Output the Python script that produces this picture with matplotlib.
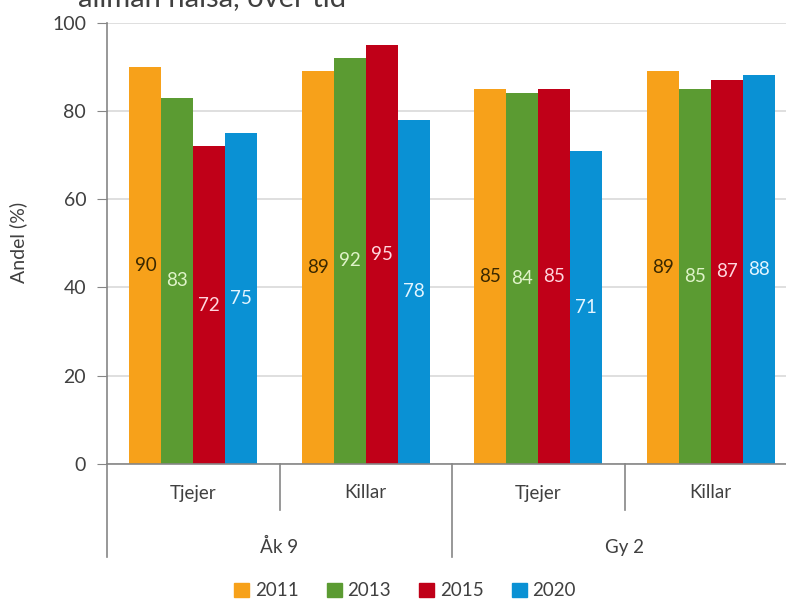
import matplotlib
matplotlib.use("Agg")
import matplotlib.pyplot as plt
import matplotlib.transforms as mtransforms
import numpy as np

plt.rcParams['font.family'] = ['Lato', 'DejaVu Sans']

years = ["2011", "2013", "2015", "2020"]
subcats = ["Tjejer", "Killar", "Tjejer", "Killar"]
groups = ["Åk 9", "Gy 2"]
values = {
    "2011": [90, 89, 85, 89],
    "2013": [83, 92, 84, 85],
    "2015": [72, 95, 85, 87],
    "2020": [75, 78, 71, 88],
}
colors = ["#F7A11A", "#5B9B32", "#C00018", "#0A91D4"]
label_colors = ["#3a2800", "#dff3c8", "#ffd6de", "#e3f5ff"]

W, H = 786, 603
fig = plt.figure(figsize=(W / 100, H / 100), dpi=100)
ax = fig.add_axes([107 / W, 1 - 464 / H, (797 - 107) / W, (464 - 22.5) / H])

x = np.arange(len(subcats))
bw = 0.185
for i, yr in enumerate(years):
    xs = x + (i - 1.5) * bw
    ax.bar(xs, values[yr], width=bw, color=colors[i], zorder=2)
    for xi, v in zip(xs, values[yr]):
        ax.text(xi, v / 2, str(v), ha='center', va='center', fontsize=13.5,
                color=label_colors[i], zorder=3)

ax.set_xlim(-0.5, 3.5)
ax.set_ylim(0, 100)
ax.set_yticks([0, 20, 40, 60, 80, 100])
ax.set_xticks([])
ax.yaxis.grid(True, color="#d9d9d9", linewidth=1.2, zorder=0)
ax.set_axisbelow(True)
for s in ["top", "right"]:
    ax.spines[s].set_visible(False)
for s in ["left", "bottom"]:
    ax.spines[s].set_color("#868686")
    ax.spines[s].set_linewidth(1.2)
ax.tick_params(axis='y', length=7, color="#868686", labelsize=14,
               labelcolor="#404040", pad=8)
ax.set_ylabel("Andel (%)", fontsize=14, color="#404040")
ax.yaxis.set_label_coords(-(107 - 27) / (797 - 107), (464 - 242) / (464 - 22.5))

# two-level category axis
trans = mtransforms.blended_transform_factory(ax.transData, ax.transAxes)
ah = 464 - 22.5
y_sub = -(510 - 464) / ah
y_major = -(557 - 464) / ah
for xb in [0.5, 2.5]:
    ax.plot([xb, xb], [0, y_sub], transform=trans, color="#868686",
            linewidth=1.2, clip_on=False)
for xb in [-0.5, 1.5, 3.5]:
    ax.plot([xb, xb], [0, y_major], transform=trans, color="#868686",
            linewidth=1.2, clip_on=False)
for xi, lab in zip(x, subcats):
    ax.text(xi, -(493 - 464) / ah, lab, transform=trans, ha='center',
            va='center', fontsize=13.5, color="#404040")
for gi, lab in enumerate(groups):
    ax.text(gi * 2 + 0.5, -(547 - 464) / ah, lab, transform=trans,
            ha='center', va='center', fontsize=13.5, color="#404040")

# legend
handles = [plt.Rectangle((0, 0), 1, 1, color=c) for c in colors]
fig.legend(handles, years, loc='center', bbox_to_anchor=(405 / W, 1 - 591 / H),
           ncol=4, frameon=False, fontsize=13.5, handlelength=0.8,
           handleheight=0.8, handletextpad=0.3, columnspacing=1.5,
           labelcolor="#404040")

# title, cut off at the top edge as in the source image
fig.text(78 / W, 1 - 6 / H, "allmän hälsa, över tid", ha='left',
         va='baseline', fontsize=21, color="#404040")

fig.savefig("out.png", dpi=100)
